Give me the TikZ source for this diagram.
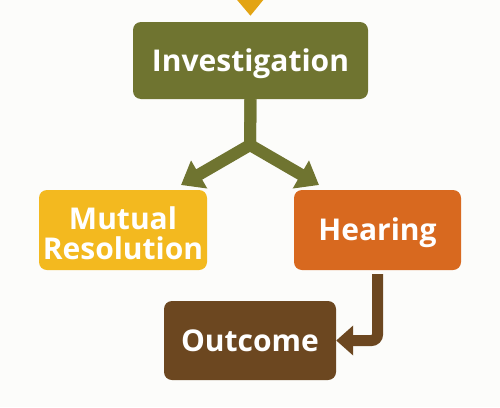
\documentclass[tikz,border=0pt]{standalone}
\usepackage{fontspec}
\setmainfont{Open Sans}
\usetikzlibrary{arrows.meta}
\definecolor{bgc}{HTML}{FCFCFA}
\definecolor{topc}{HTML}{E3A413}
\definecolor{olivec}{HTML}{6F7430}
\definecolor{mutc}{HTML}{F3B91F}
\definecolor{hearc}{HTML}{D8691F}
\definecolor{outc}{HTML}{6C4720}
\tikzset{
  box/.style={rounded corners=8pt, text=white, inner sep=0pt,
    font=\fontsize{30}{32}\selectfont\bfseries, text height=21.5pt, text depth=0pt},
  oline/.style={draw=olivec, line width=12pt, line join=miter,
    -{Triangle[width=31pt,length=21pt]}, olivec},
  bline/.style={draw=outc, line width=11pt, rounded corners=6pt,
    -{Triangle[width=29pt,length=17pt]}, outc},
}
\begin{document}
\begin{tikzpicture}[x=1pt,y=-1pt]
\fill[bgc] (0,0) rectangle (500,407);
\useasboundingbox (0,0) rectangle (500,407);
\node[box, fill=olivec, minimum width=235pt, minimum height=77pt] (inv) at (250.5,60.5) {Investigation};
\node[box, fill=mutc, minimum width=168pt, minimum height=80pt, text height=0pt] (mut) at (123,230)
  {\raisebox{-14pt}{\begin{tabular}{@{}c@{}}Mutual\\[-2pt]Resolution\end{tabular}}};
\node[box, fill=hearc, minimum width=167pt, minimum height=80pt] (hear) at (377.5,230) {Hearing};
\node[box, fill=outc, minimum width=172pt, minimum height=79pt] (out) at (250,340.5) {Outcome};
\coordinate (src) at (250,-30);
\coordinate (j) at (250,145);
\coordinate (tipL) at (181,185);
\coordinate (tipR) at (319,185);
\draw[topc, line width=8pt, -{Triangle[width=27pt,length=17pt]}, shorten >=6pt] (src) -- (inv.north);
\draw[oline] (inv.south) -- (j) -- (tipL);
\draw[oline] (inv.south) -- (j) -- (tipR);
\draw[bline, shorten <=4pt] (hear.south) |- (out.east);
\end{tikzpicture}
\end{document}
